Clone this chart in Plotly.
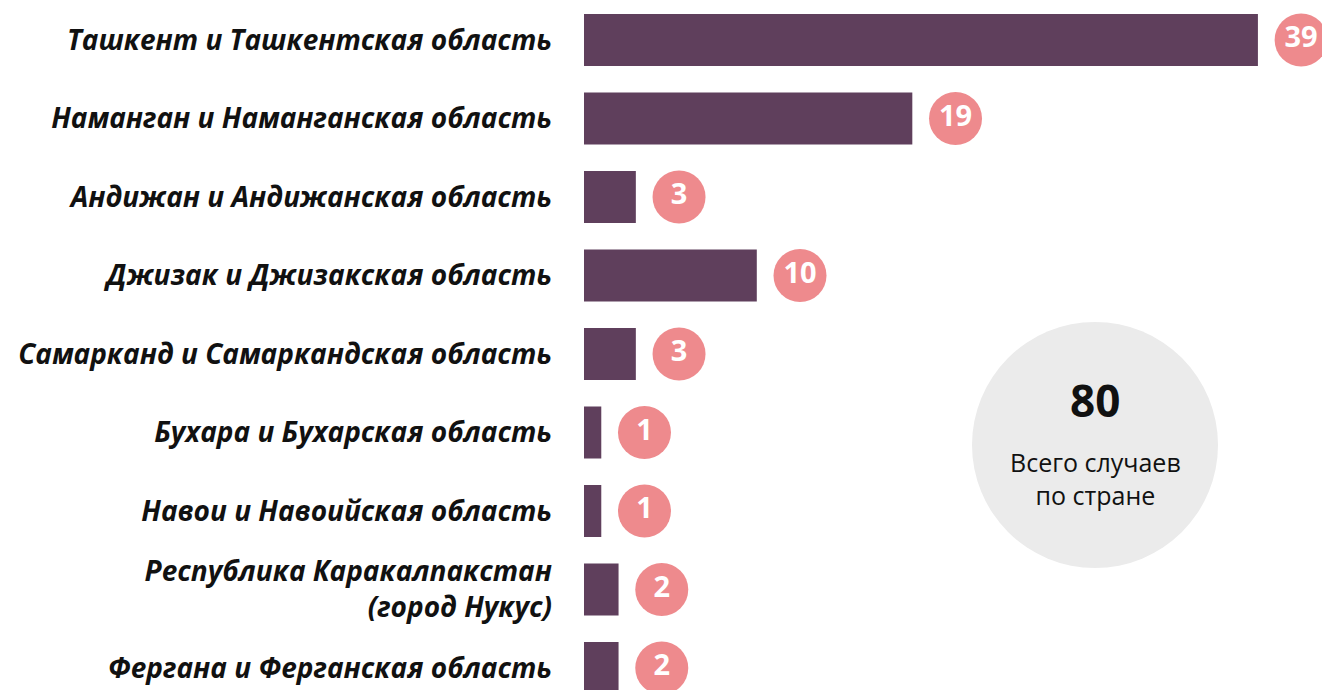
import plotly.graph_objects as go

regions = [
    "Ташкент и Ташкентская область",
    "Наманган и Наманганская область",
    "Андижан и Андижанская область",
    "Джизак и Джизакская область",
    "Самарканд и Самаркандская область",
    "Бухара и Бухарская область",
    "Навои и Навоийская область",
    "Республика Каракалпакстан<br>(город Нукус)",
    "Фергана и Ферганская область",
]
cases = [39, 19, 3, 10, 3, 1, 1, 2, 2]
total_value = "80"
total_label = "Всего случаев<br>по стране"

BAR = "#5F3F5C"
PINK = "#EE8A8D"
label_offset = 2.5

fig = go.Figure()
fig.add_trace(go.Bar(
    x=cases, y=regions, orientation="h",
    marker=dict(color=BAR, line=dict(width=0)),
    width=0.66, hoverinfo="skip",
))
fig.add_trace(go.Scatter(
    x=[v + label_offset for v in cases], y=regions,
    mode="markers+text",
    marker=dict(size=53, color=PINK, line=dict(width=0)),
    text=[str(v) for v in cases], textposition="middle center",
    textfont=dict(family="Open Sans", size=29, color="white", weight="bold"),
    hoverinfo="skip",
))

cx, cy = (1095 - 584) / 738, 1 - 445 / 690
fig.add_shape(type="circle", xref="paper", yref="paper",
              xsizemode="pixel", ysizemode="pixel",
              xanchor=cx, yanchor=cy, x0=-123, x1=123, y0=-123, y1=123,
              fillcolor="#EBEBEB", line=dict(width=0), layer="below")
fig.add_annotation(xref="paper", yref="paper", x=cx, y=1 - 400 / 690,
                   xanchor="center", yanchor="middle",
                   text=total_value, showarrow=False,
                   font=dict(family="Open Sans", size=44, color="#111111", weight="bold"))
fig.add_annotation(xref="paper", yref="paper", x=cx, y=1 - 478 / 690,
                   xanchor="center", yanchor="middle",
                   text=total_label, showarrow=False,
                   font=dict(family="Open Sans", size=25, color="#111111"))

fig.update_layout(
    width=1322, height=690,
    margin=dict(l=584, r=0, t=0, b=0),
    paper_bgcolor="white", plot_bgcolor="white",
    showlegend=False,
    xaxis=dict(range=[0, 738 / 17.28], visible=False, fixedrange=True),
    yaxis=dict(
        range=[(690 - 40) / 78.5, -40 / 78.5],
        showgrid=False, zeroline=False, showline=False, ticks="",
        ticklabelstandoff=31, automargin=False,
        tickfont=dict(family="Open Sans", size=28, color="#111111",
                      weight="bold", style="italic"),
        fixedrange=True,
    ),
)
fig.write_html("out.html", config={"displayModeBar": False},
               post_script="document.body.style.margin='0';document.body.style.overflow='hidden';")
